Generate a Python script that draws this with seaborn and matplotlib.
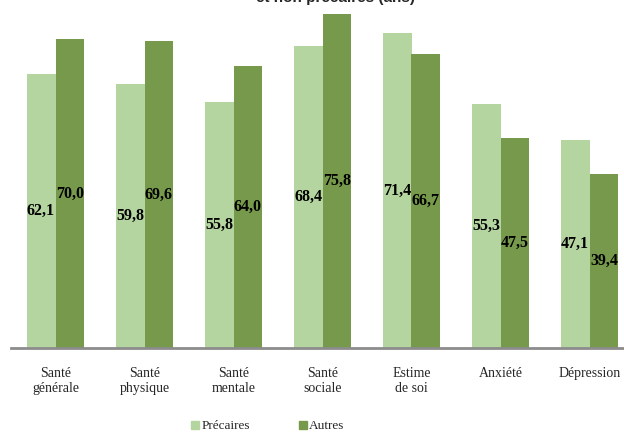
import matplotlib
matplotlib.use("Agg")

import matplotlib.pyplot as plt
import pandas as pd
import seaborn as sns

# --- DATA ---
categories = ["Santé\ngénérale", "Santé\nphysique", "Santé\nmentale", "Santé\nsociale",
              "Estime\nde soi", "Anxiété", "Dépression"]
precaires = [62.1, 59.8, 55.8, 68.4, 71.4, 55.3, 47.1]
autres = [70.0, 69.6, 64.0, 75.8, 66.7, 47.5, 39.4]
groups = ["Précaires", "Autres"]
colors = ["#B5D5A0", "#77994C"]

df = pd.DataFrame({
    "Dimension": categories * 2,
    "Score": precaires + autres,
    "Groupe": [groups[0]] * len(categories) + [groups[1]] * len(categories),
})

sns.set_style("white")
plt.rcParams["font.family"] = ["Liberation Serif", "DejaVu Serif"]

fig = plt.figure(figsize=(6.24, 4.32), dpi=100)
ax = fig.add_axes([11 / 624, 84 / 432, 623 / 624, 348 / 432])

sns.barplot(data=df, x="Dimension", y="Score", hue="Groupe", palette=colors,
            width=0.65, saturation=1, ax=ax, legend=False,
            linewidth=0, edgecolor="none")

# value labels in the middle of each bar
for cont in ax.containers:
    labels = [f"{b.get_height():.1f}".replace(".", ",") for b in cont]
    ax.bar_label(cont, labels=labels, label_type="center",
                 fontsize=11.5, fontweight="bold", color="black")

ax.set_ylim(0, 78.9)
ax.set_xlim(-0.5, 6.5)
ax.set_xlabel("")
ax.set_ylabel("")
ax.set_yticks([])
ax.tick_params(axis="x", length=0, pad=14, labelsize=10)
for s in ["top", "right", "left"]:
    ax.spines[s].set_visible(False)
ax.spines["bottom"].set_color("#8C8C8C")
ax.spines["bottom"].set_linewidth(2)

# legend at the bottom
handles = [plt.Line2D([], [], marker="s", linestyle="", color=c, markersize=6)
           for c in colors]
fig.legend(handles, groups, loc="lower center", bbox_to_anchor=(0.428, -0.028),
           ncol=2, frameon=False, fontsize=9.5, handletextpad=0.05,
           columnspacing=3.6, handlelength=0.8)

# title, mostly cut off at the top of the picture
fig.text(336 / 624, 1 - 2 / 432, "et non précaires (ans)", ha="center",
         va="baseline", fontsize=11, fontweight="bold", family="Liberation Sans")

fig.savefig("out.png", dpi=100)
